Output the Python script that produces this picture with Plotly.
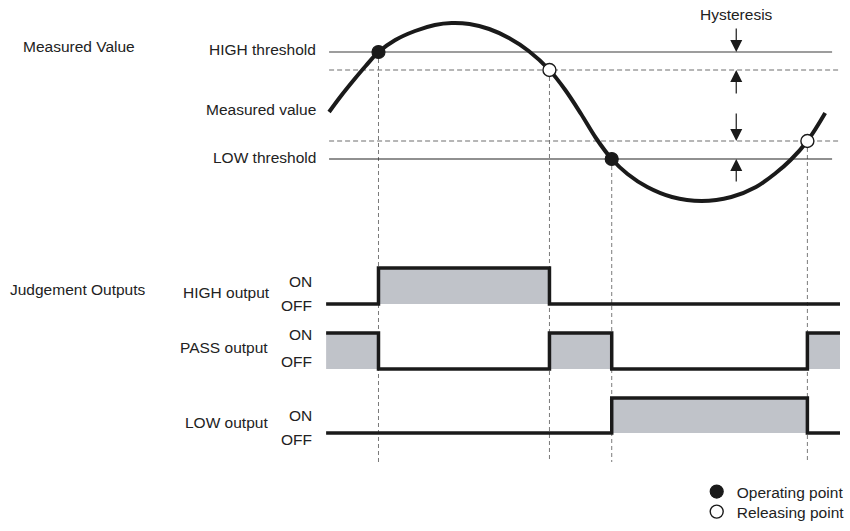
import plotly.graph_objects as go

# ---------------- data ----------------
# time axis (arbitrary units, left to right)
curve_t = [333, 345, 358, 370, 383, 400, 420, 440, 457, 475, 495, 515, 535, 556,
           572, 588, 603, 619, 635, 655, 680, 710, 740, 765, 785, 800, 817, 835]
# measured value (arbitrary units, larger = higher)
curve_v = [88, 104, 120, 134, 148, 160, 169, 175, 177, 176, 171, 162, 149, 130,
           110, 86, 62, 41, 26, 13, 3, -1, 3, 13, 27, 40, 59, 87]

HIGH_THRESHOLD = 148
HIGH_RELEASE = 130
LOW_THRESHOLD = 41
LOW_RELEASE = 59

operating_t = [383, 619]
operating_v = [HIGH_THRESHOLD, LOW_THRESHOLD]
releasing_t = [556, 817]
releasing_v = [HIGH_RELEASE, LOW_RELEASE]

# output timing (edges) and states (1 = ON, 0 = OFF)
edge_t = [330, 383, 556, 619, 817, 850]
high_out = [0, 1, 0, 0, 0, 0]
pass_out = [1, 0, 1, 0, 1, 1]
low_out = [0, 0, 0, 1, 0, 0]

line_start, line_end_solid, line_end_dash = 333, 842, 850
hysteresis_t = 745

# ---------------- styling / layout constants ----------------
W, H = 850, 531
FONT = "Liberation Sans, Arial, sans-serif"
FS = 15.5
TXT = "#222222"
FILL = "#c0c3c9"
V0 = 200  # value that sits at the top edge of the figure


def vpx(px):
    """value-axis coordinate for a given pixel row"""
    return V0 - px


def dom(p_on, p_off):
    d = p_off - p_on
    top = p_on - 0.5 * d
    bot = p_off + 0.5 * d
    return [1 - bot / H, 1 - top / H]


fig = go.Figure()

# vertical guide lines (dashed)
guide_bottom = vpx(462)
for t, v in zip(operating_t + releasing_t, operating_v + releasing_v):
    fig.add_trace(go.Scatter(x=[t, t], y=[v, guide_bottom], mode="lines",
                             line=dict(color="#7a7a7a", width=1, dash="4px,3px"),
                             hoverinfo="skip", showlegend=False))

# threshold lines
fig.add_trace(go.Scatter(x=[line_start, line_end_solid], y=[HIGH_THRESHOLD] * 2, mode="lines",
                         line=dict(color="#7d7d7d", width=1.6), showlegend=False, hoverinfo="skip"))
fig.add_trace(go.Scatter(x=[line_start, line_end_solid], y=[LOW_THRESHOLD] * 2, mode="lines",
                         line=dict(color="#222222", width=1.1), showlegend=False, hoverinfo="skip"))
for v in (HIGH_RELEASE, LOW_RELEASE):
    fig.add_trace(go.Scatter(x=[line_start, line_end_dash], y=[v] * 2, mode="lines",
                             line=dict(color="#6e6e6e", width=1.2, dash="5px,3px"),
                             showlegend=False, hoverinfo="skip"))

# measured value curve
fig.add_trace(go.Scatter(x=curve_t, y=curve_v, mode="lines",
                         line=dict(color="#1a1a1a", width=4, shape="spline", smoothing=1.0),
                         showlegend=False, hoverinfo="skip"))

# points
fig.add_trace(go.Scatter(x=operating_t, y=operating_v, mode="markers", name="Operating point",
                         legend="legend",
                         marker=dict(symbol="circle", size=13, color="#1a1a1a",
                                     line=dict(color="#1a1a1a", width=1.2))))
fig.add_trace(go.Scatter(x=releasing_t, y=releasing_v, mode="markers", name="Releasing point",
                         legend="legend2",
                         marker=dict(symbol="circle", size=13, color="white",
                                     line=dict(color="#1a1a1a", width=1.4))))

# outputs
outputs = [("y2", high_out), ("y3", pass_out), ("y4", low_out)]
for ax, states in outputs:
    fig.add_trace(go.Scatter(x=edge_t, y=states, yaxis=ax, mode="lines",
                             line=dict(color="#1a1a1a", width=3.5, shape="hv"),
                             fill="tozeroy", fillcolor=FILL,
                             showlegend=False, hoverinfo="skip"))

ax_common = dict(visible=False, showgrid=False, zeroline=False, fixedrange=True)
leg_common = dict(xanchor="left", yanchor="middle",
                  font=dict(family=FONT, size=FS, color=TXT), bgcolor="rgba(0,0,0,0)",
                  itemwidth=30, tracegroupgap=0)
fig.update_layout(
    width=W, height=H,
    margin=dict(l=0, r=0, t=0, b=0),
    paper_bgcolor="white", plot_bgcolor="rgba(0,0,0,0)",
    xaxis=dict(range=[0, W], domain=[0, 1], **ax_common),
    yaxis=dict(range=[V0 - H, V0], domain=[0, 1], **ax_common),
    yaxis2=dict(range=[-0.5, 1.5], domain=dom(268, 304), anchor="x", **ax_common),
    yaxis3=dict(range=[-0.5, 1.5], domain=dom(333, 369), anchor="x", **ax_common),
    yaxis4=dict(range=[-0.5, 1.5], domain=dom(398, 433), anchor="x", **ax_common),
    showlegend=True,
    legend=dict(x=705 / W, y=1 - 492 / H, **leg_common),
    legend2=dict(x=705 / W, y=1 - 512 / H, **leg_common),
    font=dict(family=FONT, size=FS, color=TXT),
)


def label(text, x, ypx, anchor):
    fig.add_annotation(text=text, x=x / W, y=1 - ypx / H, xref="paper", yref="paper",
                       xanchor=anchor, yanchor="middle", showarrow=False,
                       font=dict(family=FONT, size=FS, color=TXT))


label("Measured Value", 21, 46, "left")
label("HIGH threshold", 322, 50, "right")
label("Measured value", 322, 110, "right")
label("LOW threshold", 322, 157, "right")
label("Hysteresis", hysteresis_t, 15, "center")
label("Judgement Outputs", 8, 289, "left")
label("HIGH output", 275, 292, "right")
label("PASS output", 273, 347, "right")
label("LOW output", 273, 422, "right")
for ypx_on, ypx_off in [(281, 305), (334, 361), (415, 439)]:
    label("ON", 318, ypx_on, "right")
    label("OFF", 318, ypx_off, "right")

# hysteresis arrows
for v, dy in [(HIGH_THRESHOLD, -25), (HIGH_RELEASE, 25), (LOW_RELEASE, -29), (LOW_THRESHOLD, 24)]:
    fig.add_annotation(x=hysteresis_t, y=v, xref="x", yref="y", text="", showarrow=True,
                       ax=0, ay=dy, arrowhead=2, arrowsize=2.0, arrowwidth=1.2,
                       arrowcolor="#1a1a1a", standoff=0)

fig.write_html("out.html", config={"displayModeBar": False, "staticPlot": True},
               post_script="document.body.style.margin='0';")
